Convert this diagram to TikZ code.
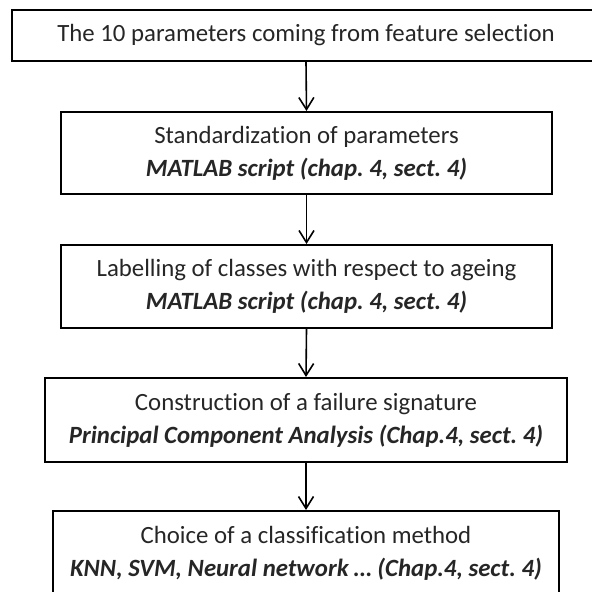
\documentclass[tikz,border=0pt]{standalone}
\usepackage{fontspec}
\setmainfont{Carlito}[Ligatures={NoCommon,NoDiscretionary}]
\usetikzlibrary{positioning,arrows.meta}
\frenchspacing

\begin{document}
\begin{tikzpicture}[
  x=0.5pt, y=-0.5pt,
  font=\fontsize{12.4}{16.5}\selectfont,
  box/.style={rectangle, draw=black, line width=1pt, fill=white, inner sep=0pt,
              align=center, text=black!85},
  arr/.style={-{Straight Barb[length=6pt,width=7.5pt]}, draw=black, line width=0.8pt}
]
\clip (0,0) rectangle (592,592);
\fill[white] (0,0) rectangle (592,592);

\node[box, minimum width=294pt, minimum height=25.5pt] (params) at (306,35.5)
  {The 10 parameters coming from feature selection};
\node[box, minimum width=245.5pt, minimum height=41pt] (stand) at (306.5,153)
  {Standardization of parameters \\ \textbf{\textit{MATLAB script (chap. 4, sect. 4)}}};
\node[box, minimum width=245.5pt, minimum height=41.5pt] (labels) at (306.5,286.5)
  {Labelling of classes with respect to ageing \\ \textbf{\textit{MATLAB script (chap. 4, sect. 4)}}};
\node[box, minimum width=261pt, minimum height=42pt] (sign) at (306,420)
  {Construction of a failure signature \\ \textbf{\textit{Principal Component Analysis (Chap.4, sect. 4)}}};
\node[box, minimum width=253pt, minimum height=42pt] (choice) at (306,553)
  {Choice of a classification method \\ \textbf{\textit{KNN, SVM, Neural network … (Chap.4, sect. 4)}}};

\draw[arr] (params.south) -- (stand.north);
\draw[arr] (stand.south) -- (labels.north);
\draw[arr] (labels.south) -- (sign.north);
\draw[arr] (sign.south) -- (choice.north);
\end{tikzpicture}
\end{document}
